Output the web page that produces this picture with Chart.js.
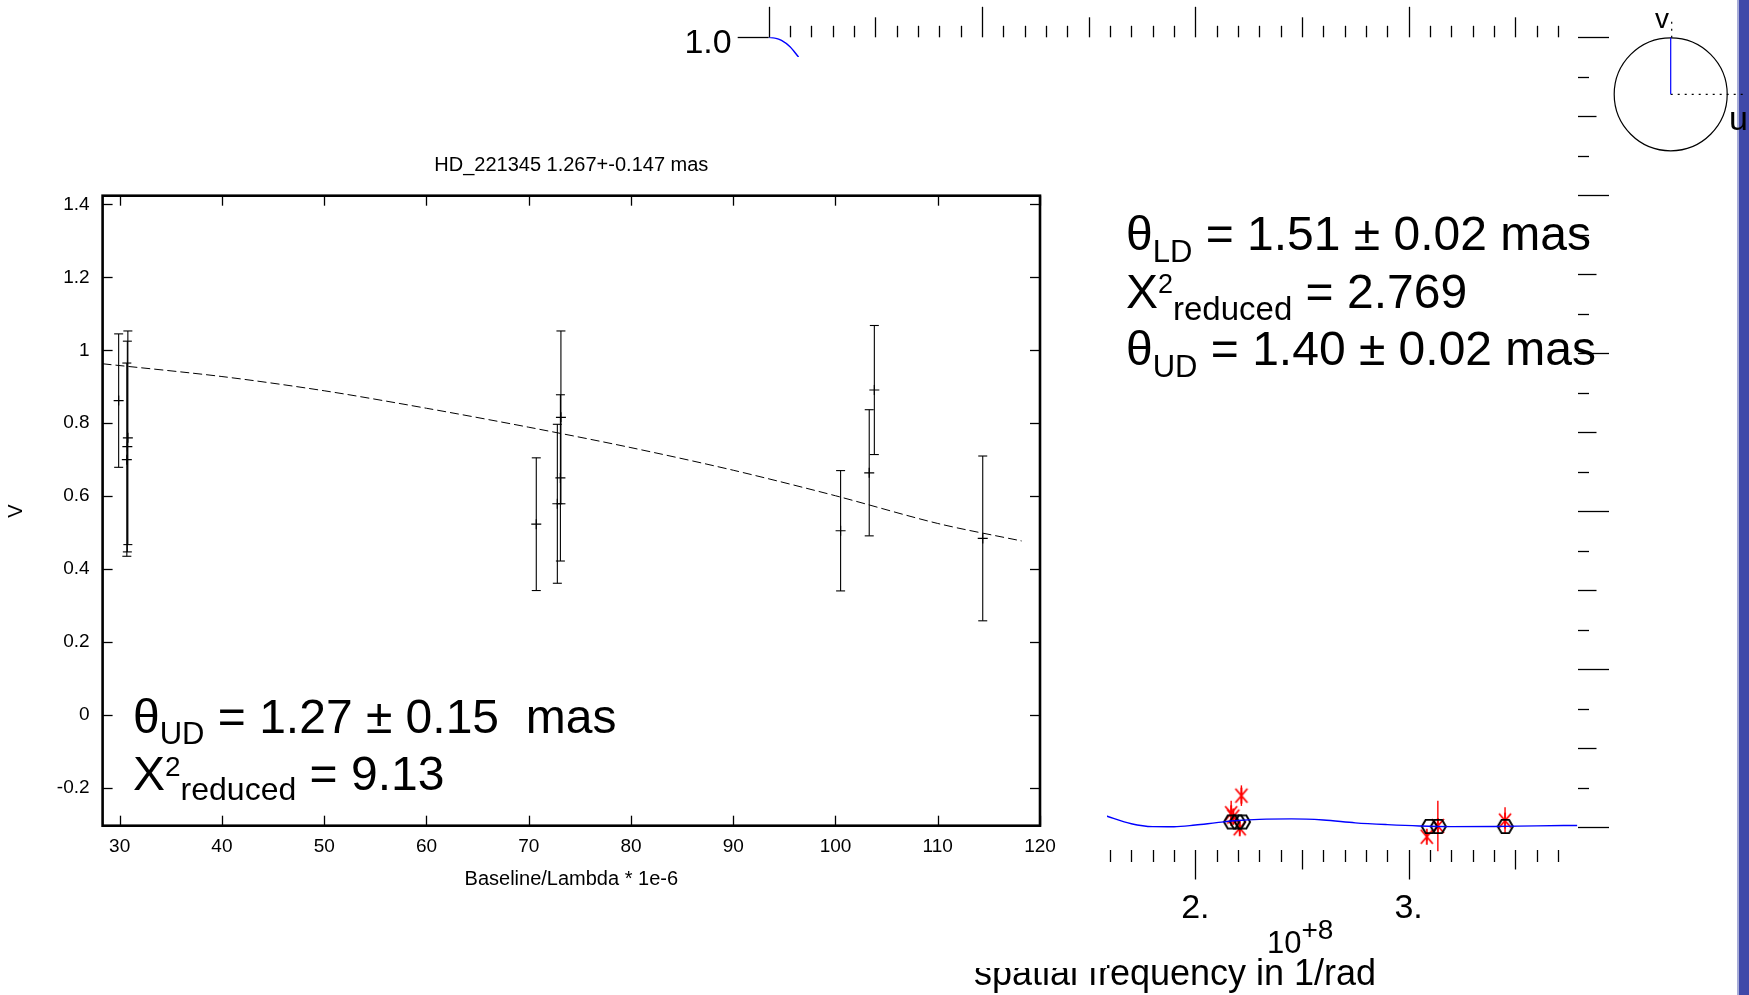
<!DOCTYPE html>
<html>
<head>
<meta charset="utf-8">
<title>HD_221345 visibility fit</title>
<script src="https://cdn.jsdelivr.net/npm/chart.js@4.4.0/dist/chart.umd.min.js"></script>
<style>
    html, body { margin: 0; padding: 0; background: #fff; }
    body { width: 1749px; height: 995px; position: relative; overflow: hidden; }
    #edgeBar { position: absolute; left: 1737px; top: 0; width: 12px; height: 995px; background: #4049a9; border-left: 2px solid #a7acd8; box-sizing: border-box; }
    #freqCanvas { position: absolute; left: 0; top: 0; }
    #fitPanel { position: absolute; left: 0; top: 57px; width: 1107px; height: 911px; background: #fff; }
    #fitCanvas { position: absolute; left: 0; top: 0; }
</style>
</head>
<body>
<div id="edgeBar"></div>
<canvas id="freqCanvas" width="1749" height="995"></canvas>
<div id="fitPanel"><canvas id="fitCanvas" width="1105" height="908"></canvas></div>

<script>
// ---- Uniform disk fit panel (baseline in units of 1e6 wavelengths) ----
const baseline = [29.9, 30.7, 30.75, 30.8, 70.74, 72.8, 73.1, 73.15, 100.5, 103.3, 103.8, 114.4];
const vis      = [0.862, 0.700, 0.736, 0.760, 0.523, 0.579, 0.650, 0.816, 0.505, 0.664, 0.891, 0.484];
const visErr   = [0.183, 0.265, 0.289, 0.293, 0.182, 0.218, 0.228, 0.237, 0.165, 0.173, 0.177, 0.226];

// fitted curve (dashed)
const fitBase = [28.33, 40, 50, 60, 70, 80, 90, 100, 110, 118.2];
const fitVis  = [0.963, 0.928, 0.889, 0.841, 0.789, 0.733, 0.671, 0.601, 0.525, 0.477];

const baseTicks = [30, 40, 50, 60, 70, 80, 90, 100, 110, 120];
const visTicks  = [-0.2, 0, 0.2, 0.4, 0.6, 0.8, 1, 1.2, 1.4];

// ---- Squared visibility vs spatial frequency panel (x in 1e8 / rad) ----
const modelFreqTop = [0, 0.03, 0.06, 0.10, 0.14];
const modelVisTop  = [1.0, 0.999, 0.996, 0.988, 0.975];
const modelFreqLow = [1.58, 1.70, 1.80, 1.90, 2.00, 2.10, 2.20, 2.30, 2.45, 2.60, 2.75, 2.90, 3.05, 3.20, 3.40, 3.60, 3.79];
const modelVisLow  = [0.0146, 0.0045, 0.0008, 0.0006, 0.0028, 0.0058, 0.0085, 0.0100, 0.0106, 0.0092, 0.0056, 0.0033, 0.0016, 0.0008, 0.0010, 0.0018, 0.0023];

const modelPtFreq = [2.170, 2.198, 2.221, 3.097, 3.139, 3.453];
const modelPtVis  = [0.0067, 0.0067, 0.0067, 0.0010, 0.0010, 0.0010];

const obsFreq = [2.168, 2.178, 2.208, 2.216, 3.085, 3.137, 3.452];
const obsVis  = [0.0177, 0.0135, -0.0013, 0.040, -0.012, 0.0016, 0.0084];
const obsErr  = [0.016, 0.010, 0.008, 0.013, 0.005, 0.032, 0.017];

const freqMajor = [0, 1, 2, 3];
const vis2Major = [0, 0.2, 0.4, 0.6, 0.8, 1.0];

const FONT = '"Liberation Sans", Arial, Helvetica, sans-serif';
Chart.defaults.font.family = FONT;
Chart.defaults.color = '#000';

function line(ctx, x1, y1, x2, y2) {
    ctx.beginPath();
    ctx.moveTo(x1, y1);
    ctx.lineTo(x2, y2);
    ctx.stroke();
}

// draws runs of text with their own size and vertical shift (sub/superscripts)
function drawRuns(ctx, x, y, runs) {
    let cx = x;
    runs.forEach(r => {
        ctx.font = `${r.size}px ${FONT}`;
        ctx.fillText(r.text, cx, y + (r.dy || 0));
        cx += ctx.measureText(r.text).width;
    });
}

// hexagon marker used for model points
function hexagonMarker() {
    const c = document.createElement('canvas');
    c.width = 19; c.height = 17;
    const g = c.getContext('2d');
    g.strokeStyle = '#000';
    g.lineWidth = 1.9;
    g.beginPath();
    for (let k = 0; k < 6; k++) {
        const a = k * Math.PI / 3;
        const px = 9.5 + 7.6 * Math.cos(a);
        const py = 8.5 + 7.6 * Math.sin(a);
        if (k === 0) g.moveTo(px, py); else g.lineTo(px, py);
    }
    g.closePath();
    g.stroke();
    return c;
}

// red asterisk used for measured points
function asteriskMarker() {
    const c = document.createElement('canvas');
    c.width = 16; c.height = 18;
    const g = c.getContext('2d');
    g.strokeStyle = '#ff0000';
    g.lineWidth = 1.8;
    line(g, 2, 2, 14, 16);
    line(g, 14, 2, 2, 16);
    line(g, 8, 1, 8, 17);
    return c;
}

// ---- frequency panel decorations: ticks, labels, uv inset ----
const freqDecor = {
    id: 'freqDecor',
    beforeDatasetsDraw(chart) {
        const { ctx, scales: { x, y } } = chart;
        ctx.save();
        ctx.strokeStyle = '#ff0000';
        ctx.lineWidth = 1.4;
        obsFreq.forEach((f, i) => {
            const px = x.getPixelForValue(f);
            line(ctx, px, y.getPixelForValue(obsVis[i] - obsErr[i]), px, y.getPixelForValue(obsVis[i] + obsErr[i]));
        });
        ctx.restore();
    },
    afterDraw(chart) {
        const { ctx, chartArea: a, scales: { x, y } } = chart;
        ctx.save();
        ctx.strokeStyle = '#000';
        ctx.lineWidth = 1.3;

        // frequency ticks every 0.1e8, top and bottom
        for (let i = 0; i <= 37; i++) {
            const px = Math.round(x.getPixelForValue(i / 10)) + 0.5;
            const up = i % 10 === 0 ? 30.5 : (i % 5 === 0 ? 20 : 11.5);
            const dn = i % 10 === 0 ? 29.5 : (i % 5 === 0 ? 19.5 : 12);
            line(ctx, px, a.top, px, a.top - up);
            line(ctx, px, a.bottom, px, a.bottom + dn);
        }
        // V² ticks every 0.05, left and right
        for (let j = 0; j <= 20; j++) {
            const py = Math.round(y.getPixelForValue(j / 20)) + 0.5;
            const len = j % 4 === 0 ? 31 : (j % 2 === 0 ? 18.5 : 11);
            line(ctx, a.left, py, a.left - len, py);
            line(ctx, a.right, py, a.right + len, py);
        }

        ctx.fillStyle = '#000';
        ctx.font = `34px ${FONT}`;
        ctx.textAlign = 'center';
        ctx.textBaseline = 'alphabetic';
        freqMajor.forEach(f => ctx.fillText(f + '.', x.getPixelForValue(f), 918));
        ctx.textAlign = 'right';
        vis2Major.forEach(v => ctx.fillText(v.toFixed(1), a.left - 37, y.getPixelForValue(v) + 16));

        ctx.textAlign = 'left';
        drawRuns(ctx, 1267, 953, [{ text: '10', size: 31 }, { text: '+8', size: 28, dy: -14 }]);
        ctx.font = `36px ${FONT}`;
        ctx.textAlign = 'center';
        ctx.fillText('spatial frequency in 1/rad', 1175, 985);

        // fit results
        ctx.textAlign = 'left';
        drawRuns(ctx, 1126, 250, [
            { text: 'θ', size: 48 }, { text: 'LD', size: 31, dy: 12 },
            { text: ' = 1.51 ± 0.02 mas', size: 48 }
        ]);
        drawRuns(ctx, 1126, 308, [
            { text: 'X', size: 48 }, { text: '2', size: 27, dy: -15 },
            { text: 'reduced', size: 33, dy: 12 }, { text: ' = 2.769', size: 48 }
        ]);
        drawRuns(ctx, 1126, 365, [
            { text: 'θ', size: 48 }, { text: 'UD', size: 31, dy: 12 },
            { text: ' = 1.40 ± 0.02 mas', size: 48 }
        ]);

        // uv coverage inset
        const cx = 1670.7, cy = 94.3, r = 56.5;
        ctx.lineWidth = 1.2;
        ctx.beginPath();
        ctx.arc(cx, cy, r, 0, Math.PI * 2);
        ctx.stroke();
        ctx.setLineDash([2, 5]);
        line(ctx, cx, cy, 1747, cy);
        line(ctx, cx + 1, cy - r, cx + 1, 18);
        ctx.setLineDash([]);
        ctx.strokeStyle = '#0000ff';
        line(ctx, cx, cy, cx, cy - r);
        ctx.font = `28px ${FONT}`;
        ctx.textAlign = 'center';
        ctx.fillText('v', 1662, 28);
        ctx.font = `34px ${FONT}`;
        ctx.textAlign = 'left';
        ctx.fillText('u', 1729, 130);
        ctx.restore();
    }
};

new Chart(document.getElementById('freqCanvas'), {
    type: 'scatter',
    data: {
        datasets: [
            {
                data: modelFreqTop.map((f, i) => ({ x: f, y: modelVisTop[i] })),
                showLine: true, borderColor: '#0000ff', borderWidth: 1.4,
                pointRadius: 0, cubicInterpolationMode: 'monotone'
            },
            {
                data: modelFreqLow.map((f, i) => ({ x: f, y: modelVisLow[i] })),
                showLine: true, borderColor: '#0000ff', borderWidth: 1.4,
                pointRadius: 0, cubicInterpolationMode: 'monotone'
            },
            {
                data: modelPtFreq.map((f, i) => ({ x: f, y: modelPtVis[i] })),
                pointStyle: hexagonMarker(), pointRadius: 8
            },
            {
                data: obsFreq.map((f, i) => ({ x: f, y: obsVis[i] })),
                pointStyle: asteriskMarker(), pointRadius: 8
            }
        ]
    },
    options: {
        responsive: false,
        animation: false,
        layout: { padding: { left: 768.7, right: 171, top: 37.3, bottom: 145 } },
        plugins: { legend: { display: false }, tooltip: { enabled: false } },
        scales: {
            x: { type: 'linear', min: 0, max: 3.794, display: false },
            y: { type: 'linear', min: -0.0288, max: 1.0, display: false }
        }
    },
    plugins: [freqDecor]
});

// ---- fit panel: frame, mirrored inward ticks, error bars, text ----
const fitDecor = {
    id: 'fitDecor',
    afterDatasetsDraw(chart) {
        const { ctx, scales: { x, y } } = chart;
        ctx.save();
        ctx.strokeStyle = '#000';
        ctx.lineWidth = 1.1;
        baseline.forEach((b, i) => {
            const px = x.getPixelForValue(b);
            const lo = y.getPixelForValue(vis[i] - visErr[i]);
            const hi = y.getPixelForValue(vis[i] + visErr[i]);
            line(ctx, px, lo, px, hi);
            line(ctx, px - 4.5, lo, px + 4.5, lo);
            line(ctx, px - 4.5, hi, px + 4.5, hi);
        });
        ctx.restore();
    },
    afterDraw(chart) {
        const { ctx, chartArea: a, scales: { x, y } } = chart;
        ctx.save();
        ctx.strokeStyle = '#000';
        ctx.lineWidth = 1.3;
        baseTicks.forEach(t => {
            const px = Math.round(x.getPixelForValue(t)) + 0.5;
            line(ctx, px, a.bottom, px, a.bottom - 10);
            line(ctx, px, a.top, px, a.top + 10);
        });
        visTicks.forEach(t => {
            const py = Math.round(y.getPixelForValue(t)) + 0.5;
            line(ctx, a.left, py, a.left + 10, py);
            line(ctx, a.right, py, a.right - 10, py);
        });
        ctx.lineWidth = 2.6;
        ctx.strokeRect(a.left, a.top, a.right - a.left, a.bottom - a.top);

        ctx.fillStyle = '#000';
        ctx.textAlign = 'center';
        ctx.font = `20px ${FONT}`;
        const mid = (a.left + a.right) / 2;
        ctx.fillText('HD_221345 1.267+-0.147 mas', mid, 114);
        ctx.fillText('Baseline/Lambda * 1e-6', mid, 828);
        ctx.save();
        ctx.translate(22, 454);
        ctx.rotate(-Math.PI / 2);
        ctx.fillText('V', 0, 0);
        ctx.restore();

        ctx.textAlign = 'left';
        drawRuns(ctx, 133, 676, [
            { text: 'θ', size: 48 }, { text: 'UD', size: 31, dy: 11 },
            { text: ' = 1.27 ± 0.15  mas', size: 48 }
        ]);
        drawRuns(ctx, 133, 733, [
            { text: 'X', size: 48 }, { text: '2', size: 28, dy: -14 },
            { text: 'reduced', size: 32, dy: 10 }, { text: ' = 9.13', size: 48 }
        ]);
        ctx.restore();
    }
};

new Chart(document.getElementById('fitCanvas'), {
    type: 'scatter',
    data: {
        datasets: [
            {
                data: fitBase.map((b, i) => ({ x: b, y: fitVis[i] })),
                showLine: true, borderColor: '#000', borderWidth: 1,
                borderDash: [9, 4], pointRadius: 0, tension: 0.3
            },
            {
                data: baseline.map((b, i) => ({ x: b, y: vis[i] })),
                pointStyle: 'cross', pointRadius: 5, borderColor: '#000', borderWidth: 1.2
            }
        ]
    },
    options: {
        responsive: false,
        animation: false,
        layout: { padding: { left: 0, right: 65, top: 138.7, bottom: 0 } },
        plugins: { legend: { display: false }, tooltip: { enabled: false } },
        scales: {
            x: {
                type: 'linear', min: 28.33, max: 120,
                grid: { display: false, drawTicks: false }, border: { display: false },
                afterBuildTicks: s => { s.ticks = baseTicks.map(v => ({ value: v })); },
                afterFit: s => { s.height = 139.3; },
                ticks: { font: { size: 19 }, padding: 10, autoSkip: false, maxRotation: 0, color: '#000' }
            },
            y: {
                type: 'linear', min: -0.304, max: 1.424,
                grid: { display: false, drawTicks: false }, border: { display: false },
                afterBuildTicks: s => { s.ticks = visTicks.map(v => ({ value: v })); },
                afterFit: s => { s.width = 102.6; },
                ticks: {
                    font: { size: 19 }, padding: 13, color: '#000',
                    callback: v => String(Math.round(v * 10) / 10)
                }
            }
        }
    },
    plugins: [fitDecor]
});
</script>
</body>
</html>
